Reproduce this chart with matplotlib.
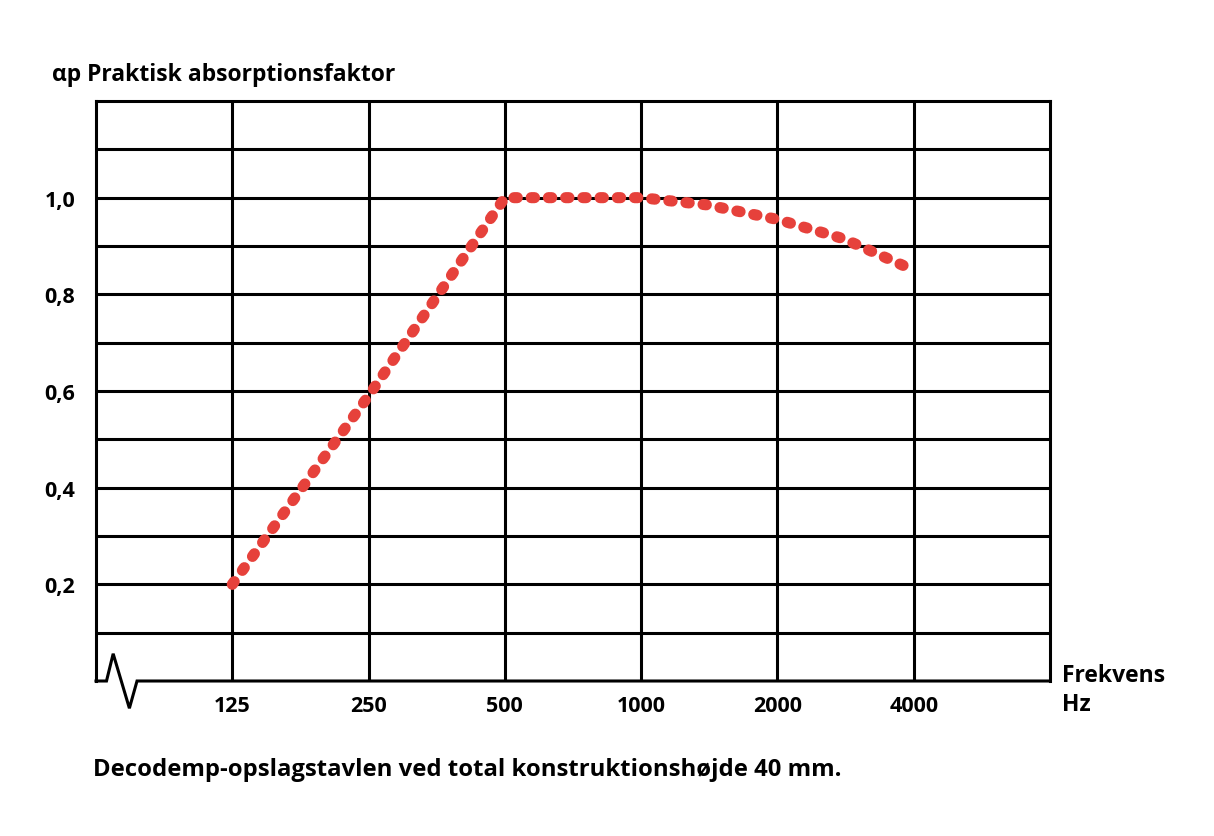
import matplotlib.pyplot as plt
from matplotlib.ticker import FixedLocator, NullLocator

# frequency (Hz) and practical absorption factor
freq = [125, 250, 500, 1000, 1400, 2000, 2800, 4000]
alpha_p = [0.20, 0.59, 1.00, 1.00, 0.985, 0.955, 0.915, 0.85]

x_ticks = [125, 250, 500, 1000, 2000, 4000]
x_labels = ["125", "250", "500", "1000", "2000", "4000"]
y_ticks = [0.2, 0.4, 0.6, 0.8, 1.0]
y_labels = ["0,2", "0,4", "0,6", "0,8", "1,0"]

FONT = ["Open Sans", "DejaVu Sans"]
RED = "#e6413b"
LW = 2.2

fig = plt.figure(figsize=(12.14, 8.37), dpi=100)
ax = fig.add_axes([96 / 1214, 1 - 682 / 837, 954 / 1214, 580 / 837])

ax.set_xscale("log", base=2)
ax.set_xlim(62.5, 8000)
ax.set_ylim(0, 1.2)

ax.xaxis.set_major_locator(FixedLocator(x_ticks))
ax.xaxis.set_minor_locator(NullLocator())
ax.set_xticklabels(x_labels)
ax.yaxis.set_major_locator(FixedLocator(y_ticks))
ax.yaxis.set_minor_locator(FixedLocator([0.1, 0.3, 0.5, 0.7, 0.9, 1.1]))
ax.set_yticklabels(y_labels)

ax.grid(True, which="major", color="black", linewidth=LW)
ax.grid(True, which="minor", axis="y", color="black", linewidth=LW)
ax.tick_params(which="both", length=0)
ax.tick_params(axis="x", pad=10)
ax.tick_params(axis="y", pad=15)
for lab in ax.get_xticklabels() + ax.get_yticklabels():
    lab.set_fontfamily(FONT)
    lab.set_fontweight("bold")
    lab.set_fontsize(15.5)

for side in ["top", "left", "right"]:
    ax.spines[side].set_linewidth(LW)
ax.spines["bottom"].set_visible(False)

# bottom axis with break symbol
bx = [0.0, 0.011, 0.018, 0.035, 0.043, 1.0]
by = [0.0, 0.0, 0.047, -0.047, 0.0, 0.0]
ax.plot(bx, by, color="black", linewidth=LW, transform=ax.transAxes,
        clip_on=False, solid_joinstyle="miter", zorder=3)

ax.plot(freq, alpha_p, color=RED, linewidth=8,
        linestyle=(0, (0.3, 1.25)), dash_capstyle="round", zorder=4)

fig.text(52 / 1214, 1 - 75 / 837, "\u03b1p Praktisk absorptionsfaktor",
         fontsize=16.5, fontweight="bold", family=FONT, va="center")
fig.text(1062 / 1214, 1 - 676 / 837, "Frekvens", fontsize=16.5,
         fontweight="bold", family=FONT, va="center")
fig.text(1062 / 1214, 1 - 705 / 837, "Hz", fontsize=16.5,
         fontweight="bold", family=FONT, va="center")
fig.text(93 / 1214, 1 - 770 / 837,
         "Decodemp-opslagstavlen ved total konstruktionsh\u00f8jde 40 mm.",
         fontsize=17.2, fontweight="bold", family=FONT, va="center")

fig.savefig("out.png", dpi=100)
